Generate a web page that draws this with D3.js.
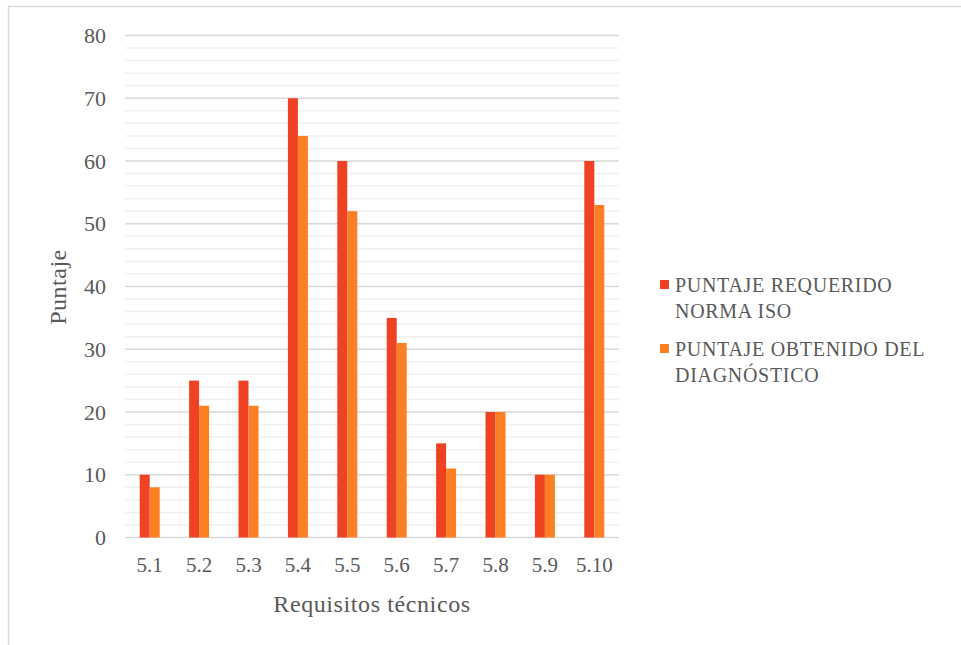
<!DOCTYPE html>
<html><head><meta charset="utf-8">
<script src="https://cdn.jsdelivr.net/npm/d3@7"></script>
<style>body{margin:0;background:#fff}svg{display:block}
svg text{font-family:"Liberation Serif","Times New Roman",Tinos,"DejaVu Serif",serif;}</style>
</head><body>
<script>
const categories = ["5.1","5.2","5.3","5.4","5.5","5.6","5.7","5.8","5.9","5.10"];
const requerido = [10,25,25,70,60,35,15,20,10,60];
const obtenido = [8,21,21,64,52,31,11,20,10,53];
const seriesNames = ["PUNTAJE REQUERIDO NORMA ISO","PUNTAJE OBTENIDO DEL DIAGNÓSTICO"];
const legendLines = [["PUNTAJE REQUERIDO","NORMA ISO"],["PUNTAJE OBTENIDO DEL","DIAGNÓSTICO"]];
const yTicks = [0,10,20,30,40,50,60,70,80];
const colors = ["#EF4124","#FD7F23"];

const W=961,H=645;
const svg=d3.select("body").append("svg").attr("width",W).attr("height",H);
svg.append("rect").attr("x",8.5).attr("y",6.5).attr("width",970).attr("height",650)
  .attr("fill","#fff").attr("stroke","#d9d9d9").attr("stroke-width",1.5);

const L=125,R=619,T=35.5,B=537.5;
const x=d3.scaleBand().domain(categories).range([L,R]);
const y=d3.scaleLinear().domain([0,80]).range([B,T]);
const g=svg.append("g");
g.selectAll("line.minor").data(d3.range(0,81,2).filter(v=>v%10!==0)).join("line")
  .attr("x1",L).attr("x2",R).attr("y1",d=>y(d)).attr("y2",d=>y(d))
  .attr("stroke","#f0f0f0").attr("stroke-width",1.5);
g.selectAll("line.major").data(yTicks).join("line")
  .attr("x1",L).attr("x2",R).attr("y1",d=>y(d)).attr("y2",d=>y(d))
  .attr("stroke","#d9d9d9").attr("stroke-width",1.3);

const bw=10;
const data=categories.map((c,i)=>({c,v:[requerido[i],obtenido[i]]}));
[0,1].forEach(s=>{
  g.selectAll("rect.s"+s).data(data).join("rect")
   .attr("x",d=>x(d.c)+x.bandwidth()/2-bw+s*bw)
   .attr("width",bw)
   .attr("y",d=>y(d.v[s]))
   .attr("height",d=>B-y(d.v[s]))
   .attr("fill",colors[s]);
});

const yAxis=d3.axisLeft(y).tickValues(yTicks).tickSize(0).tickPadding(19);
const ya=svg.append("g").attr("transform",`translate(${L},0)`).call(yAxis);
ya.select(".domain").remove();
ya.attr("font-family",null);
ya.selectAll("text").attr("font-size",22).attr("fill","#595959");
const xAxis=d3.axisBottom(x).tickSize(0).tickPadding(20);
const xa=svg.append("g").attr("transform",`translate(0,${B})`).call(xAxis);
xa.select(".domain").remove();
xa.attr("font-family",null);
xa.selectAll("text").attr("font-size",21).attr("fill","#595959");

svg.append("text").attr("transform","translate(66,287) rotate(-90)").attr("text-anchor","middle")
  .attr("font-size",24).attr("letter-spacing",0.5).attr("fill","#595959").text("Puntaje");
svg.append("text").attr("x",372).attr("y",612).attr("text-anchor","middle")
  .attr("font-size",24).attr("letter-spacing",0.6).attr("fill","#595959").text("Requisitos técnicos");

const lg=svg.append("g");
legendLines.forEach((lines,i)=>{
  const y0=292+i*64;
  lg.append("rect").attr("x",660).attr("y",y0-12).attr("width",9).attr("height",9).attr("fill",colors[i]);
  lines.forEach((t,j)=>{
    lg.append("text").attr("x",675).attr("y",y0+j*26).attr("font-size",20).attr("letter-spacing",0.7)
      .attr("fill","#595959").text(t);
  });
});
</script>
</body></html>
